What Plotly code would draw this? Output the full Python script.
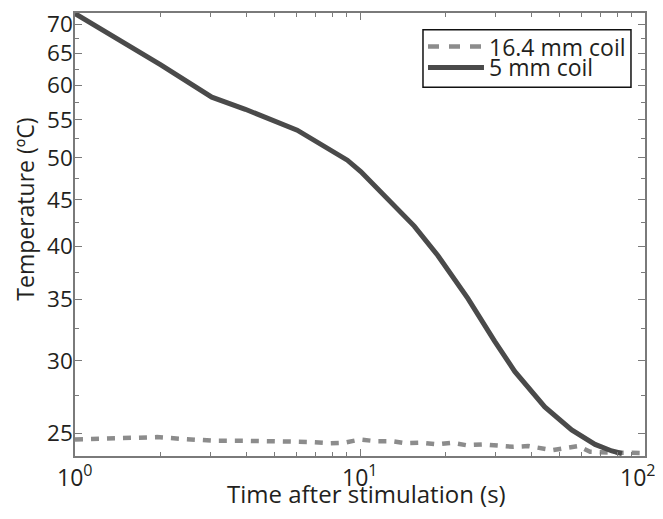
import math
import plotly.graph_objects as go

# ---- data ----
t_5mm = [1, 2, 3.02, 3.96, 6.02, 7.08, 8.0, 9.03, 10.06, 11.2, 13.2, 15.5,
         18.75, 23.9, 29.7, 34.9, 44.5, 55.3, 66.8, 76.5, 83]
temp_5mm = [71.9, 63.2, 58.25, 56.5, 53.6, 52.0, 50.96, 49.7, 48.3, 46.7, 44.4, 42.1,
            39.1, 35.1, 31.5, 29.2, 26.7, 25.2, 24.3, 23.9, 23.75]

t_164mm = [1, 1.31, 1.71, 1.94, 2.42, 3.11, 4.01, 5.16, 6.66, 7.83, 8.78, 10, 11.3,
           12.9, 14.5, 16.4, 18.6, 21.0, 23.6, 27.0, 30.1, 34.5, 38.9, 42.8, 47.5,
           51.5, 58.3, 64.2, 71.5, 77.7, 86.1, 94.5, 100]
temp_164mm = [24.6, 24.67, 24.75, 24.75, 24.63, 24.52, 24.52, 24.5, 24.45, 24.37, 24.4,
              24.6, 24.5, 24.5, 24.37, 24.4, 24.3, 24.4, 24.25, 24.3, 24.25, 24.15,
              24.2, 24.05, 23.95, 24.05, 24.2, 23.85, 23.8, 23.8, 23.8, 23.82, 23.78]

series_names = ["16.4 mm coil", "5 mm coil"]

x_major = [1, 10, 100]
x_major_text = ["10<sup>0</sup>", "10<sup>1</sup>", "10<sup>2</sup>"]
x_minor = [2, 3, 4, 5, 6, 7, 8, 9, 20, 30, 40, 50, 60, 70, 80, 90]
y_major = [25, 30, 35, 40, 45, 50, 55, 60, 65, 70]
y_minor = [27.5, 32.5, 37.5, 42.5, 47.5, 52.5, 57.5, 62.5, 67.5]

FONT = "Open Sans"
TXT = "#231f20"
AX = "#7a7a7a"
C_DASH = "#8c8c8c"
C_SOLID = "#4a4a4a"

fig = go.Figure()
fig.add_trace(go.Scatter(x=t_164mm, y=temp_164mm, mode="lines", name=series_names[0],
                         line=dict(color=C_DASH, width=4.5, dash="8px,8px")))
fig.add_trace(go.Scatter(x=t_5mm, y=temp_5mm, mode="lines", name=series_names[1],
                         line=dict(color=C_SOLID, width=5)))

axis_common = dict(showgrid=False, zeroline=False, showline=True, linecolor=AX,
                   linewidth=1.5, mirror="allticks", ticks="inside", ticklen=7,
                   tickwidth=1.2, tickcolor=AX, ticklabeloverflow="allow")

fig.update_xaxes(type="log", range=[0, 2], tickmode="array", tickvals=x_major,
                 showticklabels=False,
                 minor=dict(tickmode="array", tickvals=x_minor, ticks="inside",
                            ticklen=4, tickwidth=1.2, tickcolor=AX, showgrid=False),
                 **axis_common)
fig.update_yaxes(type="log", range=[math.log10(23.6), math.log10(72.0)],
                 tickmode="array", tickvals=y_major,
                 ticktext=[str(v) for v in y_major], ticklabelstandoff=-4,
                 tickfont=dict(family=FONT, size=22.5, color=TXT),
                 minor=dict(tickmode="array", tickvals=y_minor, ticks="inside",
                            ticklen=4, tickwidth=1.2, tickcolor=AX, showgrid=False),
                 **axis_common)

# x tick labels (the last one is nudged left so it stays inside the figure, as in the reference)
x_label_shift = [0, 0, -7]
for v, txt, sh in zip(x_major, x_major_text, x_label_shift):
    fig.add_annotation(text=txt, xref="x", yref="paper", x=math.log10(v), y=0,
                       xanchor="center", yanchor="top", yshift=-1, xshift=sh,
                       showarrow=False, font=dict(family=FONT, size=23, color=TXT))

fig.add_annotation(text="Time after stimulation (s)", xref="paper", yref="paper",
                   x=0.512, y=-0.085, xanchor="center", yanchor="middle", showarrow=False,
                   font=dict(family=FONT, size=24, color=TXT))
fig.add_annotation(text="Temperature (ºC)", xref="paper", yref="paper",
                   x=-0.0877, y=0.556, xanchor="center", yanchor="middle", textangle=-90,
                   showarrow=False, font=dict(family=FONT, size=23, color=TXT))

# ---- legend box (drawn in paper space to match the reference's compact layout) ----
lg_x0, lg_x1, lg_y0, lg_y1 = 0.6105, 0.9754, 0.8326, 0.962
sample_x0, sample_x1, text_x = 0.6193, 0.7175, 0.7228
row_y = [0.9241, 0.8772]
fig.add_shape(type="rect", xref="paper", yref="paper", x0=lg_x0, x1=lg_x1,
              y0=lg_y0, y1=lg_y1, line=dict(color="#111111", width=1.5),
              fillcolor="white", layer="above")
fig.add_shape(type="line", xref="paper", yref="paper", x0=sample_x0, x1=sample_x1,
              y0=row_y[0], y1=row_y[0], line=dict(color=C_DASH, width=4.5, dash="11px,10px"),
              layer="above")
fig.add_shape(type="line", xref="paper", yref="paper", x0=sample_x0, x1=sample_x1,
              y0=row_y[1], y1=row_y[1], line=dict(color=C_SOLID, width=5), layer="above")
for name, yy in zip(series_names, row_y):
    fig.add_annotation(text=name, xref="paper", yref="paper", x=text_x, y=yy,
                       xanchor="left", yanchor="middle", showarrow=False,
                       font=dict(family=FONT, size=23, color=TXT))

# the page body adds an 8px offset, so the figure is sized/margined to compensate
fig.update_layout(
    width=655, height=503,
    margin=dict(l=67, r=18, t=0, b=55),
    plot_bgcolor="white", paper_bgcolor="white",
    showlegend=False,
)

fig.write_html("out.html")
